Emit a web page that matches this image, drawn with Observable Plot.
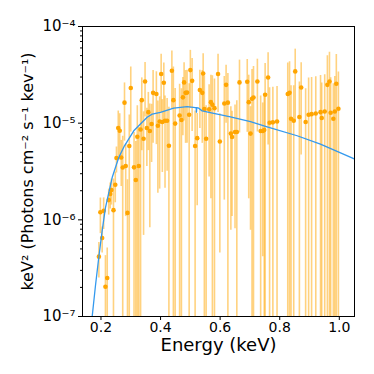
<!DOCTYPE html>
<html>
<head>
<meta charset="utf-8">
<script src="https://cdn.jsdelivr.net/npm/d3@7"></script>
<script src="https://cdn.jsdelivr.net/npm/@observablehq/plot@0.6"></script>
<style>
  html, body { margin: 0; padding: 0; background: #fff; }
  #chart { width: 374px; height: 374px; }
</style>
</head>
<body>
<div id="chart"></div>
<script>
// Observed spectrum: energy (keV), flux (keV^2 Photons cm^-2 s^-1 keV^-1), relative error
const energy = [0.193,0.204,0.198,0.209,0.215,0.221,0.226,0.231,0.235,0.242,0.248,0.252,0.258,0.263,0.268,0.273,0.279,0.283,0.289,0.295,0.300,0.311,0.317,0.322,0.327,0.333,0.337,0.343,0.348,0.354,0.359,0.364,0.370,0.375,0.386,0.391,0.397,0.402,0.406,0.411,0.415,0.422,0.428,0.438,0.443,0.449,0.464,0.470,0.475,0.479,0.484,0.489,0.496,0.500,0.506,0.516,0.523,0.532,0.540,0.543,0.547,0.553,0.563,0.569,0.574,0.581,0.593,0.599,0.614,0.620,0.626,0.636,0.640,0.650,0.656,0.665,0.691,0.696,0.702,0.707,0.712,0.725,0.736,0.743,0.748,0.751,0.761,0.766,0.777,0.791,0.827,0.833,0.838,0.847,0.852,0.866,0.872,0.887,0.897,0.907,0.921,0.937,0.941,0.951,0.960,0.967,0.971,0.980,0.985,0.990,0.997];
const flux = [4.16e-7,6.48e-7,1.20e-6,1.24e-6,2.03e-7,2.50e-7,1.60e-6,1.85e-6,2.03e-6,1.26e-6,2.31e-6,4.36e-6,8.9e-6,8.34e-6,4.42e-6,3.48e-6,1.63e-5,3.6e-6,1.18e-6,5.8e-6,2.31e-5,3.49e-6,2.58e-6,7.23e-6,3.6e-6,8.6e-6,1.73e-5,6.9e-6,2.70e-5,8.9e-6,1.30e-5,8.3e-6,9.8e-6,2.06e-5,2.0e-5,9.4e-6,1.04e-5,3.22e-5,1.03e-5,2.62e-5,1.06e-5,1.06e-5,5.84e-6,3.48e-5,1.73e-5,9.9e-6,1.2e-5,1.08e-5,1.85e-5,2.64e-5,2.06e-5,2.07e-5,1.22e-5,3.54e-5,2.74e-5,5.8e-6,7.0e-6,2.2e-5,2.06e-5,3.27e-5,1.4e-5,6.9e-6,1.39e-5,1.65e-5,1.55e-5,1.43e-5,3.22e-5,6.47e-6,1.6e-5,2.49e-5,1.63e-5,7.8e-6,7.2e-6,8.1e-6,8.1e-6,2.64e-5,2.68e-5,1.65e-5,7.8e-6,1.79e-5,1.84e-5,2.7e-5,8.3e-6,8.3e-6,8.5e-6,1.97e-5,2.97e-5,1.01e-5,1.02e-5,1.04e-5,2.0e-5,2.06e-5,1.11e-5,1.06e-5,3.43e-5,1.16e-5,2.34e-5,1.03e-5,1.22e-5,1.24e-5,1.26e-5,1.3e-5,1.13e-5,1.32e-5,2.49e-5,2.7e-5,1.28e-5,1.11e-5,1.32e-5,2.56e-5,1.41e-5];
const relErr = [0.4,0.3,0.4,0.36,1.1,1.05,0.3,0.3,0.3,1.1,0.35,0.3,0.5,0.5,0.5,1.1,0.6,0.7,1.2,1.1,0.65,1.3,1.5,1.1,1.5,1.0,0.7,0.9,0.57,0.6,0.6,0.9,0.6,0.7,0.7,0.8,0.8,0.6,0.7,0.6,0.8,0.7,1.5,0.6,1.2,1.3,1.1,1.1,0.6,0.6,0.7,0.7,1.1,0.6,0.7,1.3,0.8,0.6,0.7,0.6,1.2,1.2,0.8,0.9,1.0,1.0,0.6,0.93,0.9,0.6,1.0,0.9,0.85,0.9,1.1,0.7,0.7,0.9,0.9,1.0,1.1,0.7,1.3,0.95,1.2,1.1,0.8,1.3,1.3,1.3,1.1,1.1,1.2,1.3,0.7,1.3,0.8,1.2,1.4,1.4,1.4,1.4,1.3,1.4,1.0,1.0,1.3,1.3,1.3,1.0,1.4];

// Model curve
const modelE = [0.1705,0.1815,0.1926,0.204,0.2151,0.2376,0.2597,0.2789,0.3101,0.355,0.3718,0.3997,0.4443,0.4893,0.5171,0.5195,0.5205,0.5215,0.5282,0.5396,0.5785,0.6346,0.7017,0.7577,0.8584,0.9366,1.0507];
const modelF = [1.0e-7,2.08e-7,4.08e-7,7.71e-7,1.34e-6,2.74e-6,4.42e-6,5.83e-6,8.34e-6,1.15e-5,1.24e-5,1.29e-5,1.43e-5,1.48e-5,1.45e-5,1.45e-5,1.30e-5,1.45e-5,1.43e-5,1.34e-5,1.26e-5,1.16e-5,1.04e-5,9.18e-6,7.41e-6,6.08e-6,4.26e-6];

const yMajor = [1e-7, 1e-6, 1e-5, 1e-4];
const yLabel = "keV\u00B2 (Photons cm\u207B\u00B2 s\u207B\u00B9 kev\u207B\u00B9)";
const xLabel = "Energy (keV)";
const xTicks = [0.2, 0.4, 0.6, 0.8, 1.0];

const pts = energy.map((e, i) => {
  const s = flux[i] * relErr[i];
  return {e, f: flux[i], hi: flux[i] + s, lo: Math.max(flux[i] - s, 1e-9)};
});
const model = modelE.map((e, i) => ({e, f: modelF[i]}));

const sup = {"-": "\u207B", "0": "\u2070", "1": "\u00B9", "2": "\u00B2", "3": "\u00B3", "4": "\u2074", "5": "\u2075", "6": "\u2076", "7": "\u2077", "8": "\u2078", "9": "\u2079"};
const fmtPow = d => "10" + String(Math.round(Math.log10(d))).split("").map(c => sup[c]).join("");
const yMinor = [];
for (let p = -7; p < -4; p++) for (let k = 2; k <= 9; k++) yMinor.push(k * Math.pow(10, p));

const chart = Plot.plot({
  width: 374,
  height: 374,
  marginLeft: 82,
  marginRight: 20,
  marginTop: 26,
  marginBottom: 58,
  style: {fontFamily: "DejaVu Sans", fontSize: "14px", color: "black", background: "white"},
  x: {domain: [0.138, 1.051]},
  y: {type: "log", domain: [1e-7, 1e-4]},
  marks: [
    Plot.ruleX(pts, {x: "e", y1: "lo", y2: "hi", stroke: "orange", strokeOpacity: 0.5, strokeWidth: 1.6, clip: true}),
    Plot.dot(pts, {x: "e", y: "f", r: 2.3, fill: "orange", stroke: "none", clip: true}),
    Plot.line(model, {x: "e", y: "f", stroke: "#3399ee", strokeWidth: 1.3, clip: true}),
    Plot.frame({stroke: "black", strokeWidth: 1}),
    Plot.axisX({ticks: xTicks, tickFormat: d => d.toFixed(1), tickSize: 4, tickPadding: 2, label: null, fontSize: 14}),
    Plot.axisY({ticks: yMajor, tickFormat: fmtPow, tickSize: 4, tickPadding: 3, label: null, fontSize: 15}),
    Plot.axisY({ticks: yMinor, tickFormat: () => "", tickSize: 2, label: null}),
    Plot.text([xLabel], {frameAnchor: "bottom", lineAnchor: "middle", textAnchor: "middle", dy: 29, fontSize: 18, fill: "black"}),
    Plot.text([yLabel], {frameAnchor: "left", lineAnchor: "middle", textAnchor: "middle", dx: -55, rotate: -90, fontSize: 16, fill: "black"})
  ]
});
document.getElementById("chart").appendChild(chart);
</script>
</body>
</html>
